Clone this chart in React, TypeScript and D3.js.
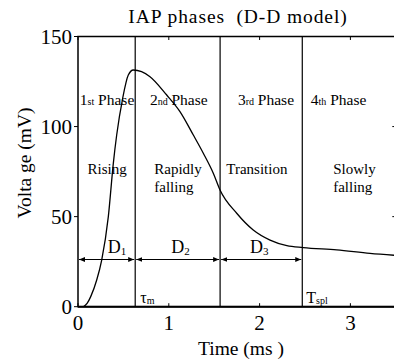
import React from 'react';
import * as d3 from 'd3';

// IAP waveform (time in ms, voltage in mV)
const timeMs = [0.06, 0.1, 0.14, 0.206, 0.261, 0.334, 0.389, 0.426, 0.492, 0.554, 0.609, 0.7, 0.793, 0.977, 1.123, 1.27, 1.38, 1.49, 1.564, 1.748, 1.93, 2.115, 2.3, 2.48, 2.85, 3.216, 3.5];
const voltage = [0, 1.8, 5.6, 14.8, 25.9, 50, 79.6, 95.3, 115.7, 128.6, 131.4, 130.5, 127.7, 117.5, 108.3, 95.3, 85.2, 74.1, 64.8, 51.9, 42.6, 37, 33.9, 32.8, 31.5, 29.6, 28.5];

const phaseBounds = [0, 0.63, 1.565, 2.47];
const phaseNums = ['1', '2', '3', '4'];
const phaseSuffix = ['st', 'nd', 'rd', 'th'];
const phaseLabelX = [0.32, 1.11, 2.07, 2.87];
const phaseDesc = [['Rising'], ['Rapidly', 'falling'], ['Transition'], ['Slowly', 'falling']];
const descX = [0.32, 0.84, 1.97, 2.81];
const descAnchor = ['middle', 'start', 'middle', 'start'];
const durationNames = ['1', '2', '3'];
const durationLabelX = [0.43, 1.13, 1.995];

const xTicks = [0, 1, 2, 3];
const yTicks = [0, 50, 100, 150];

const width = 394;
const height = 363;
const left = 78;
const top = 36.5;
const bottom = 306.7;
const font = 'Liberation Serif';

const App: React.FC = () => {
  const x = d3.scaleLinear().domain([0, 3.5]).range([left, left + 3.5 * 90.8]);
  const y = d3.scaleLinear().domain([0, 150]).range([bottom, top]);
  const right = x(3.5);

  const line = d3
    .line<number>()
    .x((_, i) => x(timeMs[i]))
    .y(d => y(d))
    .curve(d3.curveMonotoneX);

  const arrowY = 259.5;

  return (
    <svg width={width} height={height} style={{ position: 'absolute', left: 0, top: 0 }}>
      <defs>
        <marker id="ah" viewBox="0 0 10 10" refX="10" refY="5" markerWidth="6" markerHeight="6" orient="auto-start-reverse" markerUnits="userSpaceOnUse">
          <path d="M0,1 L10,5 L0,9 Z" fill="#000" />
        </marker>
      </defs>

      <g fontFamily={font} fill="#000">
        <text x={238} y={23} textAnchor="middle" fontSize={19.5} letterSpacing={0.9} style={{ whiteSpace: 'pre' }}>
          IAP phases  (D-D model)
        </text>

        {/* phase boundaries */}
        {phaseBounds.slice(1).map(b => (
          <line key={b} x1={x(b)} x2={x(b)} y1={top} y2={bottom} stroke="#000" strokeWidth={1.2} />
        ))}

        {/* frame */}
        <rect x={left} y={top} width={right - left} height={bottom - top} fill="none" stroke="#000" strokeWidth={1.5} />
        <line x1={left} x2={right} y1={bottom} y2={bottom} stroke="#000" strokeWidth={2} />

        {/* ticks */}
        {xTicks.map(t => (
          <g key={t}>
            <line x1={x(t)} x2={x(t)} y1={bottom} y2={bottom - 3.5} stroke="#000" />
            <line x1={x(t)} x2={x(t)} y1={top} y2={top + 3.5} stroke="#000" />
            <text x={x(t)} y={330} textAnchor="middle" fontSize={21}>{t}</text>
          </g>
        ))}
        {yTicks.map(v => (
          <g key={v}>
            <line x1={left - 4} x2={left} y1={y(v)} y2={y(v)} stroke="#000" />
            <line x1={right - 3.5} x2={right} y1={y(v)} y2={y(v)} stroke="#000" />
            <text x={72} y={y(v) + 7} textAnchor="end" fontSize={21}>{v}</text>
          </g>
        ))}

        <text x={241} y={355} textAnchor="middle" fontSize={19.5} style={{ whiteSpace: 'pre' }}>Time (ms )</text>
        <text transform={`translate(31,163) rotate(-90)`} textAnchor="middle" fontSize={19.5} style={{ whiteSpace: 'pre' }}>
          Volta ge (mV)
        </text>

        {/* phase labels */}
        {phaseNums.map((n, i) => (
          <text key={n} x={x(phaseLabelX[i])} y={104.5} textAnchor="middle" fontSize={15.5}>
            {n}
            <tspan fontSize={10}>{phaseSuffix[i]}</tspan>
            <tspan> Phase</tspan>
          </text>
        ))}
        {phaseDesc.map((lines, i) => (
          <text key={i} x={x(descX[i])} y={173.5} textAnchor={descAnchor[i]} fontSize={15}>
            {lines.map((l, j) => (
              <tspan key={j} x={x(descX[i])} dy={j === 0 ? 0 : 18.5}>{l}</tspan>
            ))}
          </text>
        ))}

        {/* duration arrows */}
        {durationNames.map((d, i) => (
          <g key={d}>
            <line x1={x(phaseBounds[i]) + 1} x2={x(phaseBounds[i + 1]) - 1} y1={arrowY} y2={arrowY} stroke="#000" strokeWidth={1.2} markerStart="url(#ah)" markerEnd="url(#ah)" />
            <text x={x(durationLabelX[i])} y={253} textAnchor="middle" fontSize={18}>
              D<tspan fontSize={11} dy={2}>{d}</tspan>
            </text>
          </g>
        ))}

        <text x={x(phaseBounds[1]) + 5} y={303} fontSize={16}>
          τ<tspan fontSize={10} dy={1}>m</tspan>
        </text>
        <text x={x(phaseBounds[3]) + 4} y={303} fontSize={16}>
          T<tspan fontSize={10} dy={1}>spl</tspan>
        </text>

        <path d={line(voltage) ?? ''} fill="none" stroke="#000" strokeWidth={1.3} />
      </g>
    </svg>
  );
};

export default App;
